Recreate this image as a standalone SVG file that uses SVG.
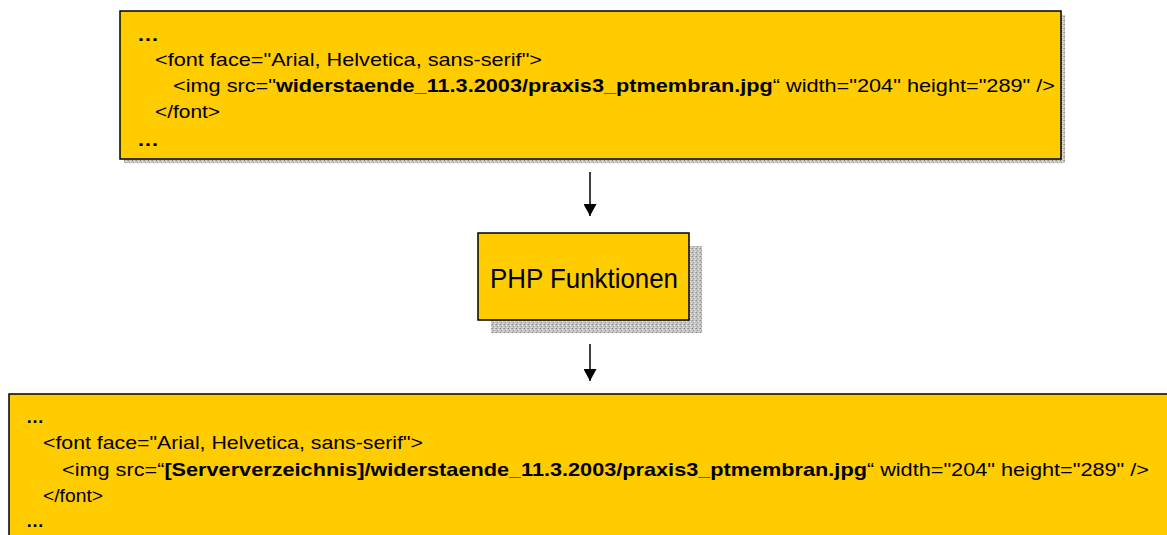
<svg xmlns="http://www.w3.org/2000/svg" width="1167" height="535" viewBox="0 0 1167 535">
  <style>
    .box { fill: #FFCC00; stroke: #000; stroke-width: 1.5; }
    .shadow { fill: url(#tex); }
    .t { font-family: "Liberation Sans", Arial, sans-serif; fill: #000; }
    .b { font-weight: bold; }
    .conn { stroke: #000; stroke-width: 1.5; fill: none; }
  </style>
  <defs>
    <pattern id="tex" width="4" height="4" patternUnits="userSpaceOnUse">
      <rect width="4" height="4" fill="#c4c4c4"/>
      <rect x="0" y="0" width="1" height="1" fill="#8a8a8a"/>
      <rect x="2" y="1" width="1" height="1" fill="#f2f2f2"/>
      <rect x="1" y="2" width="1" height="1" fill="#9a9a9a"/>
      <rect x="3" y="3" width="1" height="1" fill="#e6e6e6"/>
      <rect x="3" y="0" width="1" height="1" fill="#ababab"/>
    </pattern>
    <marker id="arrow" viewBox="0 0 12 13" refX="12" refY="6.5" markerWidth="12" markerHeight="13" markerUnits="userSpaceOnUse" orient="auto">
      <path d="M0,0 L12,6.5 L0,13 Z" fill="#000"/>
    </marker>
  </defs>

  <g id="source-code">
    <rect class="shadow" x="124" y="15" width="941" height="148"/>
    <rect class="box" x="120" y="11" width="941" height="148"/>
    <text class="t b" x="137" y="41" font-size="19" textLength="22" lengthAdjust="spacingAndGlyphs">…</text>
    <text class="t" x="155" y="66" font-size="19" textLength="387" lengthAdjust="spacingAndGlyphs">&lt;font face="Arial, Helvetica, sans-serif"&gt;</text>
    <text class="t" x="173" y="92" font-size="19" textLength="882" lengthAdjust="spacingAndGlyphs">&lt;img src="<tspan class="b">widerstaende_11.3.2003/praxis3_ptmembran.jpg</tspan>“ width="204" height="289" /&gt;</text>
    <text class="t" x="155" y="118" font-size="19" textLength="65" lengthAdjust="spacingAndGlyphs">&lt;/font&gt;</text>
    <text class="t b" x="137" y="146" font-size="19" textLength="22" lengthAdjust="spacingAndGlyphs">…</text>
  </g>

  <g id="php">
    <rect class="shadow" x="491" y="246" width="211" height="87"/>
    <rect class="box" x="478" y="233" width="211" height="87"/>
    <text class="t" x="490" y="288" font-size="28" textLength="188" lengthAdjust="spacingAndGlyphs">PHP Funktionen</text>
  </g>

  <g id="result-code">
    <rect class="box" x="9" y="394" width="1180" height="160"/>
    <text class="t b" x="26" y="423" font-size="18" textLength="18" lengthAdjust="spacingAndGlyphs">…</text>
    <text class="t" x="43" y="449" font-size="18.5" textLength="380" lengthAdjust="spacingAndGlyphs">&lt;font face="Arial, Helvetica, sans-serif"&gt;</text>
    <text class="t" x="62" y="476" font-size="18.5" textLength="1087" lengthAdjust="spacingAndGlyphs">&lt;img src=“<tspan class="b">[Serververzeichnis]/widerstaende_11.3.2003/praxis3_ptmembran.jpg</tspan>“ width="204" height="289" /&gt;</text>
    <text class="t" x="43" y="502" font-size="18.5" textLength="60" lengthAdjust="spacingAndGlyphs">&lt;/font&gt;</text>
    <text class="t b" x="26" y="527" font-size="18" textLength="18" lengthAdjust="spacingAndGlyphs">…</text>
  </g>

  <g id="connectors">
    <line class="conn" x1="590" y1="172" x2="590" y2="216" marker-end="url(#arrow)"/>
    <line class="conn" x1="590" y1="344" x2="590" y2="381" marker-end="url(#arrow)"/>
  </g>
</svg>
